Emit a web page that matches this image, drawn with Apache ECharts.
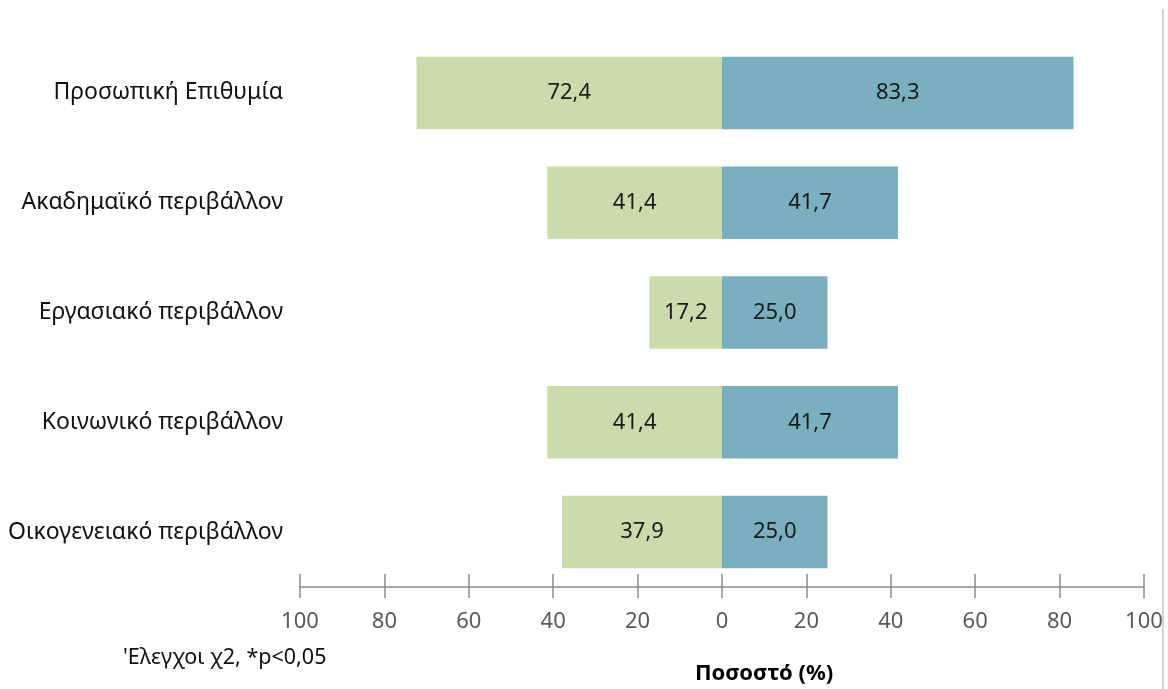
<!DOCTYPE html>
<html><head><meta charset="utf-8">
<script src="https://cdn.jsdelivr.net/npm/echarts@6/dist/echarts.min.js"></script>
<style>html,body{margin:0;padding:0;background:#fff}#c{width:1168px;height:689px}</style>
</head><body><div id="c"></div>
<script>
var categories = ['Προσωπική Επιθυμία', 'Ακαδημαϊκό περιβάλλον', 'Εργασιακό περιβάλλον', 'Κοινωνικό περιβάλλον', 'Οικογενειακό περιβάλλον'];
var leftValues = [72.4, 41.4, 17.2, 41.4, 37.9];
var rightValues = [83.3, 41.7, 25.0, 41.7, 25.0];
var axisMin = -100, axisMax = 100, axisStep = 20;
var axisTitle = 'Ποσοστό (%)';
var footnote = "'Ελεγχοι χ2, *p<0,05";

var FONT = '"Noto Sans", sans-serif';
function fmt(v) { return Math.abs(v).toFixed(1).replace('.', ','); }

var ch = echarts.init(document.getElementById('c'), null, {renderer: 'canvas'});
ch.setOption({
  animation: false,
  backgroundColor: '#fff',
  grid: {left: 300, right: 24, top: 38, bottom: 102, containLabel: false},
  xAxis: [{
    type: 'value', min: axisMin, max: axisMax, interval: axisStep, position: 'bottom',
    axisLine: {show: true, lineStyle: {color: '#8c8c8c', width: 1.5}},
    axisTick: {show: true, inside: false, length: 11, lineStyle: {color: '#8c8c8c', width: 1.5}},
    axisLabel: {formatter: function (v) { return String(Math.abs(v)); }, color: '#595959', fontSize: 22, fontFamily: FONT, margin: 24},
    splitLine: {show: false}
  }, {
    type: 'value', min: axisMin, max: axisMax, interval: axisStep, position: 'bottom', offset: 0,
    axisLine: {show: false},
    axisTick: {show: true, inside: true, length: 13, lineStyle: {color: '#8c8c8c', width: 1.5}},
    axisLabel: {show: false},
    splitLine: {show: false}
  }],
  yAxis: {
    type: 'category', data: categories, inverse: true,
    axisLine: {show: false}, axisTick: {show: false},
    axisLabel: {color: '#111', fontSize: 23, fontFamily: FONT, margin: 17}
  },
  series: [{
    type: 'bar', stack: 'all', barWidth: '66%', xAxisIndex: 0,
    data: leftValues.map(function (v) { return -v; }),
    itemStyle: {color: '#ccdbab'},
    label: {show: true, position: 'inside', formatter: function (p) { return fmt(p.value); }, color: '#1a1a1a', fontSize: 22, fontFamily: FONT}
  }, {
    type: 'bar', stack: 'all', barWidth: '66%', xAxisIndex: 0,
    data: rightValues,
    itemStyle: {color: '#7aafbf'},
    label: {show: true, position: 'inside', formatter: function (p) { return fmt(p.value); }, color: '#1a1a1a', fontSize: 22, fontFamily: FONT}
  }],
  graphic: [
    {type: 'text', left: 123, top: 647, style: {text: footnote, fontSize: 21.5, fontFamily: FONT, fill: '#111'}},
    {type: 'text', left: 695, top: 663, style: {text: axisTitle, fontSize: 22, fontWeight: 'bold', fontFamily: FONT, fill: '#000'}},
    {type: 'line', shape: {x1: 1163, y1: 9, x2: 1163, y2: 689}, style: {stroke: '#d4d4d4', lineWidth: 2}}
  ]
});
</script></body></html>
